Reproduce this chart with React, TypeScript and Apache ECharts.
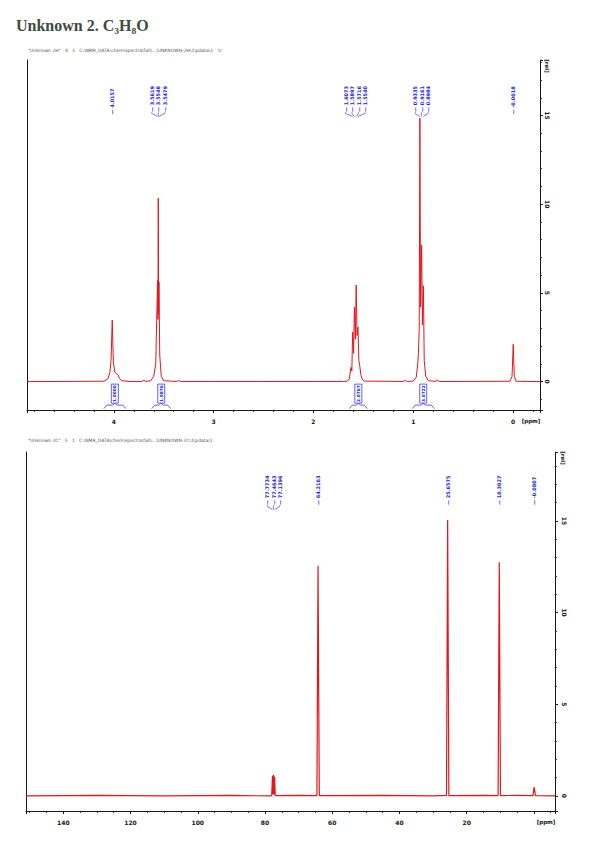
import React, { useEffect, useRef } from "react";
import * as echarts from "echarts";

const TITLE = "Unknown 2. C\u2083H\u2088O";
const h1Header = '"Unknown 2H"   4   1   C:\\NMR_DATA\\chem\\spectra\\fall\\...\\UNKNOWN-2H\\1\\pdata\\1   1r';
const c13Header = '"Unknown 2C"   5   1   C:\\NMR_DATA\\chem\\spectra\\fall\\...\\UNKNOWN-2C\\1\\pdata\\1';

// 1H spectrum (ppm, relative intensity)
const h1Shift = [
  4.87, 4.5, 4.2, 4.1, 4.06, 4.04, 4.028, 4.0157, 4.005, 3.99, 3.975, 3.96, 3.945, 3.92, 3.85,
  3.72, 3.7, 3.68, 3.63, 3.6, 3.58, 3.5619, 3.558, 3.5548, 3.551, 3.5479, 3.54, 3.525, 3.5,
  3.37, 3.35, 3.33, 3.0, 2.5, 2.0, 1.7,
  1.66, 1.64, 1.6249, 1.615, 1.6073, 1.598, 1.5897, 1.58, 1.5716, 1.563, 1.554, 1.545, 1.5364, 1.525, 1.51, 1.49,
  1.1, 1.08, 1.06, 1.0, 0.97, 0.955, 0.948, 0.94, 0.9335, 0.927, 0.9161, 0.908, 0.8984, 0.89, 0.875, 0.85, 0.8,
  0.78, 0.76, 0.74, 0.5, 0.03, 0.01, -0.0018, -0.012, -0.03, -0.27,
];
const h1Intensity = [
  0, 0.01, 0.02, 0.02, 0.15, 0.5, 1.2, 3.47, 1.1, 0.55, 0.45, 0.4, 0.2, 0.05, 0.01,
  0.01, 0.08, 0.01, 0.05, 0.3, 1.0, 5.7, 3.5, 10.34, 3.8, 5.6, 1.5, 0.3, 0.05,
  0.01, 0.06, 0.01, 0.01, 0.01, 0.01, 0.01,
  0.03, 0.15, 0.8, 0.6, 2.8, 1.6, 4.2, 2.4, 5.44, 2.6, 3.07, 1.2, 0.9, 0.4, 0.12, 0.03,
  0.01, 0.07, 0.01, 0.03, 0.25, 1.0, 1.6, 3.0, 14.85, 4.2, 7.7, 3.2, 5.4, 1.2, 0.3, 0.06, 0.02,
  0.01, 0.08, 0.01, 0.01, 0.02, 0.3, 2.1, 0.3, 0.02, 0,
];

// 13C spectrum
const c13Shift = [
  151.1, 130, 110, 90, 78.4, 78.0, 77.7734, 77.62, 77.4643, 77.3, 77.1396, 76.95, 70,
  64.55, 64.2163, 63.85, 45, 30, 26.0, 25.6575, 25.3, 15, 10.65, 10.3027, 9.95, 5,
  0.3, -0.0807, -0.45, -6.28,
];
const c13Intensity = [
  0, 0.03, 0, 0.03, 0, 0.02, 1.1, 0.08, 1.15, 0.08, 1.05, 0.02, 0.03,
  0.02, 12.55, 0.02, 0.03, 0, 0.03, 15.05, 0.02, 0.03, 0.02, 12.75, 0.02, 0.03,
  0.02, 0.48, 0.02, 0,
];

// peak picking labels (grouped as drawn)
const h1PeakGroups = [
  ["4.0157"],
  ["3.5619", "3.5548", "3.5479"],
  ["1.6073", "1.5897", "1.5716", "1.5540"],
  ["0.9335", "0.9161", "0.8984"],
  ["-0.0018"],
];
const c13PeakGroups = [
  ["77.7734", "77.4643", "77.1396"],
  ["64.2163"],
  ["25.6575"],
  ["10.3027"],
  ["-0.0807"],
];

// integrals
const h1IntegralFrom = [4.1, 3.62, 1.64, 1.01];
const h1IntegralTo = [3.88, 3.43, 1.46, 0.79];
const h1IntegralValue = ["1.0000", "1.9876", "2.0767", "3.0722"];

// tick labels
const h1TickLabels = ["4", "3", "2", "1", "0"];
const c13TickLabels = ["140", "120", "100", "80", "60", "40", "20"];
const relTickLabels = ["0", "5", "10", "15"];

const RED = "#e3161c";
const BLUE = "#2222d4";
const AXIS = "#1a1a1a";
const SANS = '"DejaVu Sans", sans-serif';

type Lbl = { ppm: number; text: string; slot: number; center: number; n: number };

function buildLabels(groups: string[][]): Lbl[] {
  const out: Lbl[] = [];
  groups.forEach((g) => {
    const vals = g.map((t) => parseFloat(t));
    const center = vals.reduce((a, b) => a + b, 0) / vals.length;
    g.forEach((t, i) => {
      out.push({ ppm: vals[i], text: t, slot: i - (g.length - 1) / 2, center, n: g.length });
    });
  });
  return out;
}

function fmt(list: string[]) {
  return (v: number) => {
    const s = String(Math.round(v * 1000) / 1000);
    return list.includes(s) ? s : "";
  };
}

function labelSeries(groups: string[][], axis: number, level: number, spacing: number, singleDrop: number) {
  const labels = buildLabels(groups);
  return {
    type: "custom",
    xAxisIndex: axis,
    yAxisIndex: axis * 2,
    silent: true,
    z: 5,
    data: labels.map((l) => [l.ppm, level]),
    renderItem: (params: any, api: any) => {
      const l = labels[params.dataIndex];
      const c = api.coord([l.center, level]);
      const p = api.coord([l.ppm, level]);
      const lx = c[0] + l.slot * spacing;
      const yb = p[1] + (l.n > 1 ? 0 : singleDrop);
      const children: any[] = [
        {
          type: "text",
          x: lx,
          y: yb,
          rotation: Math.PI / 2,
          style: {
            text: "\u2014 " + l.text,
            x: 0,
            y: 0,
            align: "left",
            verticalAlign: "middle",
            fill: BLUE,
            font: `bold 5px ${SANS}`,
          },
        },
      ];
      if (l.n > 1) {
        children.push({
          type: "polyline",
          shape: { points: [[lx, yb + 0.3], [lx, yb + 1.5], [p[0], yb + 4.5]] },
          style: { stroke: BLUE, lineWidth: 0.6, fill: "none" },
        });
      }
      return { type: "group", children };
    },
  };
}

function integralSeries() {
  return {
    type: "custom",
    xAxisIndex: 0,
    yAxisIndex: 0,
    silent: true,
    z: 5,
    data: h1IntegralFrom.map((f, i) => [(f + h1IntegralTo[i]) / 2, 0]),
    renderItem: (params: any, api: any) => {
      const i = params.dataIndex;
      const a = api.coord([h1IntegralFrom[i], 0]);
      const b = api.coord([h1IntegralTo[i], 0]);
      const y0 = a[1];
      const x1 = a[0];
      const x2 = b[0];
      const xc = (x1 + x2) / 2;
      return {
        type: "group",
        children: [
          {
            type: "rect",
            shape: { x: xc - 3.5, y: y0 + 2.5, width: 7, height: 19 },
            style: { stroke: BLUE, lineWidth: 0.7, fill: "#ffffff" },
          },
          {
            type: "text",
            x: xc,
            y: y0 + 12,
            rotation: Math.PI / 2,
            style: {
              text: h1IntegralValue[i],
              x: 0,
              y: 0,
              align: "center",
              verticalAlign: "middle",
              fill: BLUE,
              font: `bold 4.3px ${SANS}`,
            },
          },
          {
            type: "polyline",
            shape: {
              points: [
                [x1, y0 + 27],
                [x1 + 3, y0 + 23.5],
                [xc - 2, y0 + 23.5],
                [xc, y0 + 21.5],
                [xc + 2, y0 + 23.5],
                [x2 - 3, y0 + 23.5],
                [x2, y0 + 27],
              ],
            },
            style: { stroke: BLUE, lineWidth: 0.7, fill: "none" },
          },
        ],
      };
    },
  };
}

function yRight(gridIndex: number, min: number, max: number, margin: number) {
  return {
    type: "value",
    gridIndex,
    position: "right",
    min,
    max,
    splitNumber: 4,
    axisLine: { show: true, onZero: false, lineStyle: { color: AXIS, width: 1 } },
    axisTick: { show: true, length: 3, lineStyle: { color: AXIS, width: 1 } },
    minorTick: { show: true, splitNumber: 5, length: 2, lineStyle: { color: AXIS, width: 0.8 } },
    splitLine: { show: false },
    minorSplitLine: { show: false },
    axisLabel: {
      rotate: -90,
      margin,
      fontSize: 6,
      fontWeight: "bold",
      color: "#111",
      fontFamily: SANS,
      formatter: fmt(relTickLabels),
    },
  };
}

function yLeft(gridIndex: number, min: number, max: number) {
  return {
    type: "value",
    gridIndex,
    position: "left",
    min,
    max,
    axisLine: { show: true, onZero: false, lineStyle: { color: AXIS, width: 1 } },
    axisTick: { show: false },
    axisLabel: { show: false },
    splitLine: { show: false },
  };
}

function xAxisCfg(gridIndex: number, min: number, max: number, splitNumber: number, minorSplit: number, labels: string[]) {
  return {
    type: "value",
    gridIndex,
    position: "bottom",
    inverse: true,
    min,
    max,
    splitNumber,
    axisLine: { show: true, onZero: false, lineStyle: { color: AXIS, width: 1 } },
    axisTick: { show: true, length: 3, lineStyle: { color: AXIS, width: 1 } },
    minorTick: { show: true, splitNumber: minorSplit, length: 2, lineStyle: { color: AXIS, width: 0.8 } },
    splitLine: { show: false },
    minorSplitLine: { show: false },
    axisLabel: {
      margin: 8,
      fontSize: 6,
      fontWeight: "bold",
      color: "#111",
      fontFamily: SANS,
      formatter: fmt(labels),
    },
  };
}

export default function App() {
  const ref = useRef<HTMLDivElement>(null);
  useEffect(() => {
    if (!ref.current) return;
    const chart = echarts.init(ref.current, undefined, { renderer: "svg" });
    const H1_YMIN = -1.6;
    const H1_YMAX = 18.13;
    const C13_YMIN = -0.82;
    const C13_YMAX = 18.76;
    chart.setOption({
      animation: false,
      backgroundColor: "#ffffff",
      grid: [
        { left: 27, right: 54, top: 60, bottom: 436 },
        { left: 26, right: 39, top: 452, bottom: 35 },
      ],
      xAxis: [
        xAxisCfg(0, -0.27, 4.87, 5, 5, h1TickLabels),
        xAxisCfg(1, -6.28, 151.1, 8, 4, c13TickLabels),
      ],
      yAxis: [
        yRight(0, H1_YMIN, H1_YMAX, 4),
        yLeft(0, H1_YMIN, H1_YMAX),
        yRight(1, C13_YMIN, C13_YMAX, 6),
        yLeft(1, C13_YMIN, C13_YMAX),
      ],
      graphic: [
        {
          type: "text",
          x: 16,
          y: 25,
          style: {
            text: TITLE,
            fill: "#3e4a3c",
            font: 'bold 16px "Liberation Serif", "DejaVu Serif", serif',
            verticalAlign: "middle",
          },
        },
        {
          type: "text",
          x: 28,
          y: 50,
          style: { text: h1Header, fill: "#555", font: `4.5px ${SANS}`, verticalAlign: "middle" },
        },
        {
          type: "text",
          x: 28,
          y: 440,
          style: { text: c13Header, fill: "#555", font: `4.5px ${SANS}`, verticalAlign: "middle" },
        },
        {
          type: "text",
          x: 547,
          y: 66,
          rotation: -Math.PI / 2,
          style: { text: "[rel]", fill: "#111", font: `bold 5.5px ${SANS}`, align: "center", verticalAlign: "middle" },
        },
        {
          type: "text",
          x: 563,
          y: 458,
          rotation: -Math.PI / 2,
          style: { text: "[rel]", fill: "#111", font: `bold 5.5px ${SANS}`, align: "center", verticalAlign: "middle" },
        },
        {
          type: "text",
          x: 531,
          y: 421,
          style: { text: "[ppm]", fill: "#111", font: `bold 5.5px ${SANS}`, align: "center", verticalAlign: "middle" },
        },
        {
          type: "text",
          x: 546,
          y: 822,
          style: { text: "[ppm]", fill: "#111", font: `bold 5.5px ${SANS}`, align: "center", verticalAlign: "middle" },
        },
      ],
      series: [
        {
          type: "line",
          xAxisIndex: 0,
          yAxisIndex: 0,
          data: h1Shift.map((s, i) => [s, h1Intensity[i]]),
          showSymbol: false,
          symbol: "none",
          silent: true,
          lineStyle: { color: RED, width: 1 },
          z: 3,
        },
        {
          type: "line",
          xAxisIndex: 1,
          yAxisIndex: 2,
          data: c13Shift.map((s, i) => [s, c13Intensity[i]]),
          showSymbol: false,
          symbol: "none",
          silent: true,
          lineStyle: { color: RED, width: 1.2 },
          z: 3,
        },
        labelSeries(h1PeakGroups, 0, 15.2, 6.5, 2.5),
        labelSeries(c13PeakGroups, 1, 15.87, 6.3, 0),
        integralSeries(),
      ],
    });
    return () => chart.dispose();
  }, []);
  return (
    <div
      ref={ref}
      style={{ position: "absolute", left: 0, top: 0, width: 594, height: 846, background: "#fff" }}
    />
  );
}
